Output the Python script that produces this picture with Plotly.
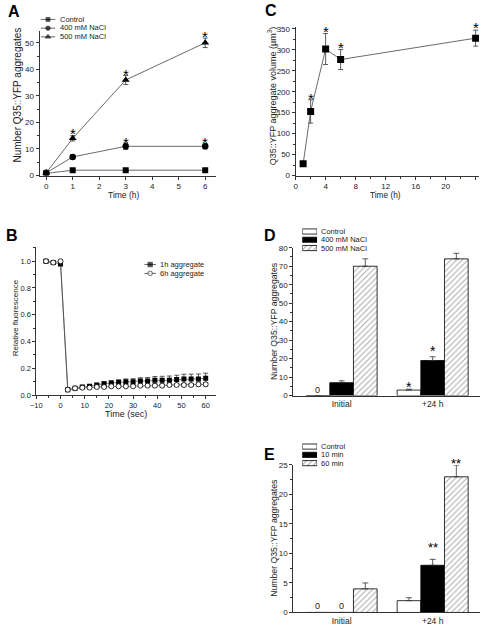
import plotly.graph_objects as go

W, H = 480, 628
FONT = "Liberation Sans, Arial, sans-serif"
INK = "#222222"
AXC = "#333333"

# ---------------- data ----------------
# Panel A
a_time = [0, 1, 3, 6]
a_control = [0.8, 2, 2, 2]
a_control_err = [0.3, 0.3, 0.3, 0.3]
a_400 = [1, 7, 11, 11]
a_400_err = [0.3, 0.7, 1.2, 1.0]
a_500 = [1, 14, 36, 50]
a_500_err = [0.3, 1.0, 1.7, 1.8]
a_names = ["Control", "400 mM NaCl", "500 mM NaCl"]
a_star_x = [1, 3, 6, 3, 6]
a_star_y = [17.1, 39.3, 53.4, 13.7, 13.7]

# Panel B
b_time = [-6, -3, 0, 3, 6, 9, 12, 15, 18, 21, 24, 27, 30, 33, 36, 39, 42, 45, 48, 51, 54, 57, 60]
b_1h = [1.0, 0.99, 0.98, 0.04, 0.05, 0.06, 0.065, 0.075, 0.085, 0.09, 0.095, 0.10, 0.10,
        0.105, 0.105, 0.11, 0.11, 0.11, 0.115, 0.12, 0.12, 0.12, 0.125]
b_1h_err = [0.01, 0.01, 0.01, 0.005, 0.006, 0.008, 0.01, 0.012, 0.014, 0.016, 0.018, 0.02,
            0.022, 0.024, 0.026, 0.028, 0.03, 0.032, 0.033, 0.035, 0.036, 0.037, 0.038]
b_6h = [1.0, 0.99, 1.0, 0.04, 0.05, 0.055, 0.055, 0.06, 0.06, 0.065, 0.065, 0.065, 0.065,
        0.07, 0.07, 0.07, 0.07, 0.075, 0.075, 0.075, 0.075, 0.08, 0.08]
b_6h_err = [0.01, 0.01, 0.01, 0.004, 0.005, 0.006, 0.006, 0.007, 0.007, 0.008, 0.008, 0.008,
            0.009, 0.009, 0.01, 0.01, 0.01, 0.01, 0.011, 0.011, 0.011, 0.012, 0.012]
b_names = ["1h aggregate", "6h aggregate"]

# Panel C
c_time = [1, 2, 4, 6, 24]
c_vol = [28, 153, 302, 277, 328]
c_err = [3, 28, 37, 24, 19]
c_star_x = [2, 4, 6, 24]
c_star_y = [191, 350, 314, 360]

# Panel D
groups = ["Initial", "+24 h"]
d_names = ["Control", "400 mM NaCl", "500 mM NaCl"]
d_control = [0, 3]
d_control_err = [0, 0.5]
d_400 = [7, 19]
d_400_err = [1, 2]
d_500 = [70, 74]
d_500_err = [4, 3]
d_star = [(1, -1, 6.2, "*"), (1, 0, 25.6, "*")]
d_zero = [(0, -1, 3.0)]

# Panel E
e_names = ["Control", "10 min", "60 min"]
e_control = [0, 2]
e_control_err = [0, 0.5]
e_10 = [0, 8]
e_10_err = [0, 1]
e_60 = [4, 23]
e_60_err = [1, 2]
e_star = [(1, 0, 11.5, "**"), (1, 1, 25.7, "**")]
e_zero = [(0, -1, 1.05), (0, 0, 1.05)]

# ---------------- helpers ----------------
def pxx(x):
    return x / W

def pxy(y):
    return 1 - y / H

def axis(domain, rng, dtick, minor=None, tick0=0, size=8, ticks="outside", **kw):
    d = dict(domain=domain, range=rng, tick0=tick0, showline=True,
             linecolor=AXC, linewidth=1, ticks=ticks, ticklen=3, tickwidth=1,
             tickcolor=AXC, showgrid=False, zeroline=False,
             tickfont=dict(size=size, color=INK, family=FONT), fixedrange=True)
    if dtick is not None:
        d["dtick"] = dtick
    if minor is not None:
        d["minor"] = dict(ticks="outside", ticklen=2, dtick=minor, tickcolor=AXC, tickwidth=1)
    d.update(kw)
    return d

# panel geometry (pixels)
GEO = {
    "A": dict(x=(34, 213), y=(174, 27), xr=[-0.25, 6.42], yr=[0, 54.6]),
    "B": dict(x=(30.7, 213), y=(396.7, 246.7), xr=[-10, 64.4], yr=[0, 1.105]),
    "C": dict(x=(293.3, 479), y=(174, 23.3), xr=[0, 24.45], yr=[0, 354.7]),
    "D": dict(x=(291, 480), y=(397.3, 247.3), xr=[-0.53, 1.52], yr=[0, 80]),
    "E": dict(x=(291, 480), y=(617.3, 467.7), xr=[-0.53, 1.52], yr=[0, 25]),
}

def ppu(p):
    g = GEO[p]
    return (g["y"][0] - g["y"][1]) / (g["yr"][1] - g["yr"][0])

fig = go.Figure()
ann = []

def star(p, xref, yref, x, y, text, size):
    top = GEO[p]["yr"][1] * 0.995
    ya = min(y, top)
    ann.append(dict(x=x, y=ya, xref=xref, yref=yref, text=text, showarrow=False,
                    font=dict(size=size, color="black", family=FONT), yanchor="middle",
                    yshift=(y - ya) * ppu(p) - 3))

LINE = dict(color="#444444", width=0.8)
ERR = lambda arr: dict(type="data", array=arr, visible=True, thickness=0.8, width=2.5, color="#333")

# ---------------- Panel A ----------------
a_series = [(a_control, a_control_err, "square", 6),
            (a_400, a_400_err, "circle", 6.5),
            (a_500, a_500_err, "triangle-up", 7)]
for (vals, err, sym, sz), nm in zip(a_series, a_names):
    fig.add_trace(go.Scatter(x=a_time, y=vals, error_y=ERR(err), mode="lines+markers",
                             line=LINE, marker=dict(symbol=sym, size=sz, color="black"),
                             name=nm, showlegend=False, xaxis="x", yaxis="y"))
for sx, sy in zip(a_star_x, a_star_y):
    star("A", "x", "y", sx, sy, "*", 15)

# ---------------- Panel B ----------------
fig.add_trace(go.Scatter(x=b_time, y=b_1h, error_y=ERR(b_1h_err), mode="lines+markers",
                         line=dict(color="#444", width=0.7),
                         marker=dict(symbol="square", size=5, color="black"),
                         name=b_names[0], showlegend=False, xaxis="x2", yaxis="y2"))
fig.add_trace(go.Scatter(x=b_time, y=b_6h, error_y=ERR(b_6h_err), mode="lines+markers",
                         line=dict(color="#444", width=0.7),
                         marker=dict(symbol="circle", size=5, color="white",
                                     line=dict(width=0.8, color="black")),
                         name=b_names[1], showlegend=False, xaxis="x2", yaxis="y2"))

# ---------------- Panel C ----------------
fig.add_trace(go.Scatter(x=c_time, y=c_vol, error_y=ERR(c_err), mode="lines+markers",
                         line=LINE, marker=dict(symbol="square", size=7, color="black"),
                         showlegend=False, xaxis="x3", yaxis="y3"))
for sx, sy in zip(c_star_x, c_star_y):
    star("C", "x3", "y3", sx, sy, "*", 15)

# ---------------- Panels D & E (bars) ----------------
HATCH = dict(shape="/", fgcolor="#555555", bgcolor="white", size=4, solidity=0.25)

def bar_set(vals_list, errs_list, names, xa, ya):
    styles = [dict(color="white"), dict(color="black"), dict(color="white", pattern=HATCH)]
    for vals, errs, nm, st in zip(vals_list, errs_list, names, styles):
        m = dict(st)
        m["line"] = dict(color="black", width=0.8)
        fig.add_trace(go.Bar(x=groups, y=vals, name=nm, marker=m, showlegend=False,
                             error_y=dict(type="data", array=errs, arrayminus=[0] * len(errs),
                                          symmetric=False, visible=True, thickness=0.8,
                                          width=3, color="#333"),
                             xaxis=xa, yaxis=ya))

bar_set([d_control, d_400, d_500], [d_control_err, d_400_err, d_500_err], d_names, "x4", "y4")
bar_set([e_control, e_10, e_60], [e_control_err, e_10_err, e_60_err], e_names, "x5", "y5")

BW = 0.26
for gi, off, yv, t in d_star:
    star("D", "x4", "y4", gi + off * BW, yv, t, 14)
for gi, off, yv in d_zero:
    ann.append(dict(x=gi + off * BW, y=yv, xref="x4", yref="y4", text="0", showarrow=False,
                    font=dict(size=9, color=INK, family=FONT), yanchor="middle"))
for gi, off, yv, t in e_star:
    star("E", "x5", "y5", gi + off * BW, yv, t, 13)
for gi, off, yv in e_zero:
    ann.append(dict(x=gi + off * BW, y=yv, xref="x5", yref="y5", text="0", showarrow=False,
                    font=dict(size=9, color=INK, family=FONT), yanchor="middle"))

# ---------------- legends (compact, drawn on hidden helper axes) ----------------
def line_legend(names, symbols, sizes, xa, ya, fills):
    for i, (nm, sym, sz, fc) in enumerate(zip(names, symbols, sizes, fills)):
        fig.add_trace(go.Scatter(x=[0, 0.5, 1], y=[i, i, i], mode="lines+markers",
                                 line=dict(color="#444", width=0.8),
                                 marker=dict(symbol=sym, size=[0, sz, 0], color=fc,
                                             line=dict(color="black", width=0.8)),
                                 showlegend=False, hoverinfo="skip", xaxis=xa, yaxis=ya))

def box_legend(xa, ya):
    fig.add_trace(go.Bar(y=[0, 1, 2], x=[1, 1, 1], orientation="h", width=0.62,
                         marker=dict(color=["white", "black", "white"],
                                     pattern=dict(shape=["", "", "/"], fgcolor="#555",
                                                  bgcolor="white", size=4, solidity=0.25),
                                     line=dict(color="black", width=0.8)),
                         showlegend=False, hoverinfo="skip", xaxis=xa, yaxis=ya))

line_legend(a_names, ["square", "circle", "triangle-up"], [4, 4.5, 5], "x6", "y6",
            ["black", "black", "black"])
line_legend(b_names, ["square", "circle"], [4.5, 4.5], "x7", "y7", ["black", "white"])
box_legend("x8", "y8")
box_legend("x9", "y9")

def leg_text(names, x0, ys, size=7.5):
    for nm, yy in zip(names, ys):
        ann.append(dict(x=pxx(x0), y=pxy(yy), xref="paper", yref="paper", text=nm,
                        showarrow=False, xanchor="left", yanchor="middle",
                        font=dict(size=size, color=INK, family=FONT)))

leg_text(a_names, 53, [15.7, 24.3, 33.3])
leg_text(b_names, 154, [264.3, 273.3])
leg_text(d_names, 317, [230.8, 239.2, 247.6])
leg_text(e_names, 317, [449.0, 457.4, 465.8])

# ---------------- axis titles & panel letters ----------------
def title(text, x, y, size, angle=0):
    ann.append(dict(x=pxx(x), y=pxy(y), xref="paper", yref="paper", text=text,
                    showarrow=False, textangle=angle, xanchor="center", yanchor="middle",
                    font=dict(size=size, color=INK, family=FONT)))

title("Number Q35::YFP aggregates", 12, 92, 10, -90)
title("Time (h)", 119, 194, 8.5)
title("Relative fluorescence", 10, 318, 8, -90)
title("Time (sec)", 122, 416, 9)
title("Q35::YFP aggregate volume (µm<sup>3</sup>)", 269, 93, 9, -90)
title("Time (h)", 384, 194, 8.3)
title("Number Q35::YFP aggregates", 272, 322, 8.7, -90)
title("Number Q35::YFP aggregates", 272, 542, 8.7, -90)

for letter, x, y in [("A", 8, 8), ("C", 268, 7), ("B", 6, 235), ("D", 267, 235), ("E", 267, 457)]:
    ann.append(dict(x=pxx(x), y=pxy(y), xref="paper", yref="paper", text="<b>%s</b>" % letter,
                    showarrow=False, xanchor="center", yanchor="middle",
                    font=dict(size=16, color="black", family=FONT)))

hidden = dict(visible=False, showgrid=False, zeroline=False, fixedrange=True)

def dom(p):
    g = GEO[p]
    return [pxx(g["x"][0]), pxx(g["x"][1])], [pxy(g["y"][0]), pxy(g["y"][1])]

Ax, Ay = dom("A"); Bx, By = dom("B"); Cx, Cy = dom("C"); Dx, Dy = dom("D"); Ex, Ey = dom("E")

fig.update_layout(
    width=W, height=H, margin=dict(l=0, r=0, t=0, b=0),
    paper_bgcolor="white", plot_bgcolor="white",
    font=dict(family=FONT, color=INK),
    barmode="group", bargap=0.22, bargroupgap=0,
    annotations=ann,
    xaxis=axis(Ax, GEO["A"]["xr"], 1, anchor="y"),
    yaxis=axis(Ay, GEO["A"]["yr"], 10, minor=5, anchor="x"),
    xaxis2=axis(Bx, GEO["B"]["xr"], 10, minor=5, size=7.5, anchor="y2"),
    yaxis2=axis(By, GEO["B"]["yr"], 0.2, minor=0.1, size=7.5, tickformat=".1f", anchor="x2"),
    xaxis3=axis(Cx, GEO["C"]["xr"], 4, minor=2, anchor="y3"),
    yaxis3=axis(Cy, GEO["C"]["yr"], 50, minor=25, anchor="x3"),
    xaxis4=axis(Dx, GEO["D"]["xr"], None, ticks="", anchor="y4", type="category", size=8.5),
    yaxis4=axis(Dy, GEO["D"]["yr"], 10, minor=5, anchor="x4"),
    xaxis5=axis(Ex, GEO["E"]["xr"], None, ticks="", anchor="y5", type="category", size=8.5),
    yaxis5=axis(Ey, GEO["E"]["yr"], 5, minor=2.5, anchor="x5"),
    # legend helper axes
    xaxis6=dict(hidden, domain=[pxx(35), pxx(50)], range=[0, 1], anchor="y6"),
    yaxis6=dict(hidden, domain=[pxy(37.7), pxy(11.3)], range=[2.5, -0.5], anchor="x6"),
    xaxis7=dict(hidden, domain=[pxx(140), pxx(152)], range=[0, 1], anchor="y7"),
    yaxis7=dict(hidden, domain=[pxy(277.8), pxy(259.8)], range=[1.5, -0.5], anchor="x7"),
    xaxis8=dict(hidden, domain=[pxx(300), pxx(315)], range=[0, 1], anchor="y8"),
    yaxis8=dict(hidden, domain=[pxy(251.8), pxy(226.6)], range=[2.5, -0.5], anchor="x8"),
    xaxis9=dict(hidden, domain=[pxx(300), pxx(315)], range=[0, 1], anchor="y9"),
    yaxis9=dict(hidden, domain=[pxy(470.0), pxy(444.8)], range=[2.5, -0.5], anchor="x9"),
)

fig.write_html("out.html", config={"displayModeBar": False, "staticPlot": True},
               post_script="document.body.style.margin='0px';")
